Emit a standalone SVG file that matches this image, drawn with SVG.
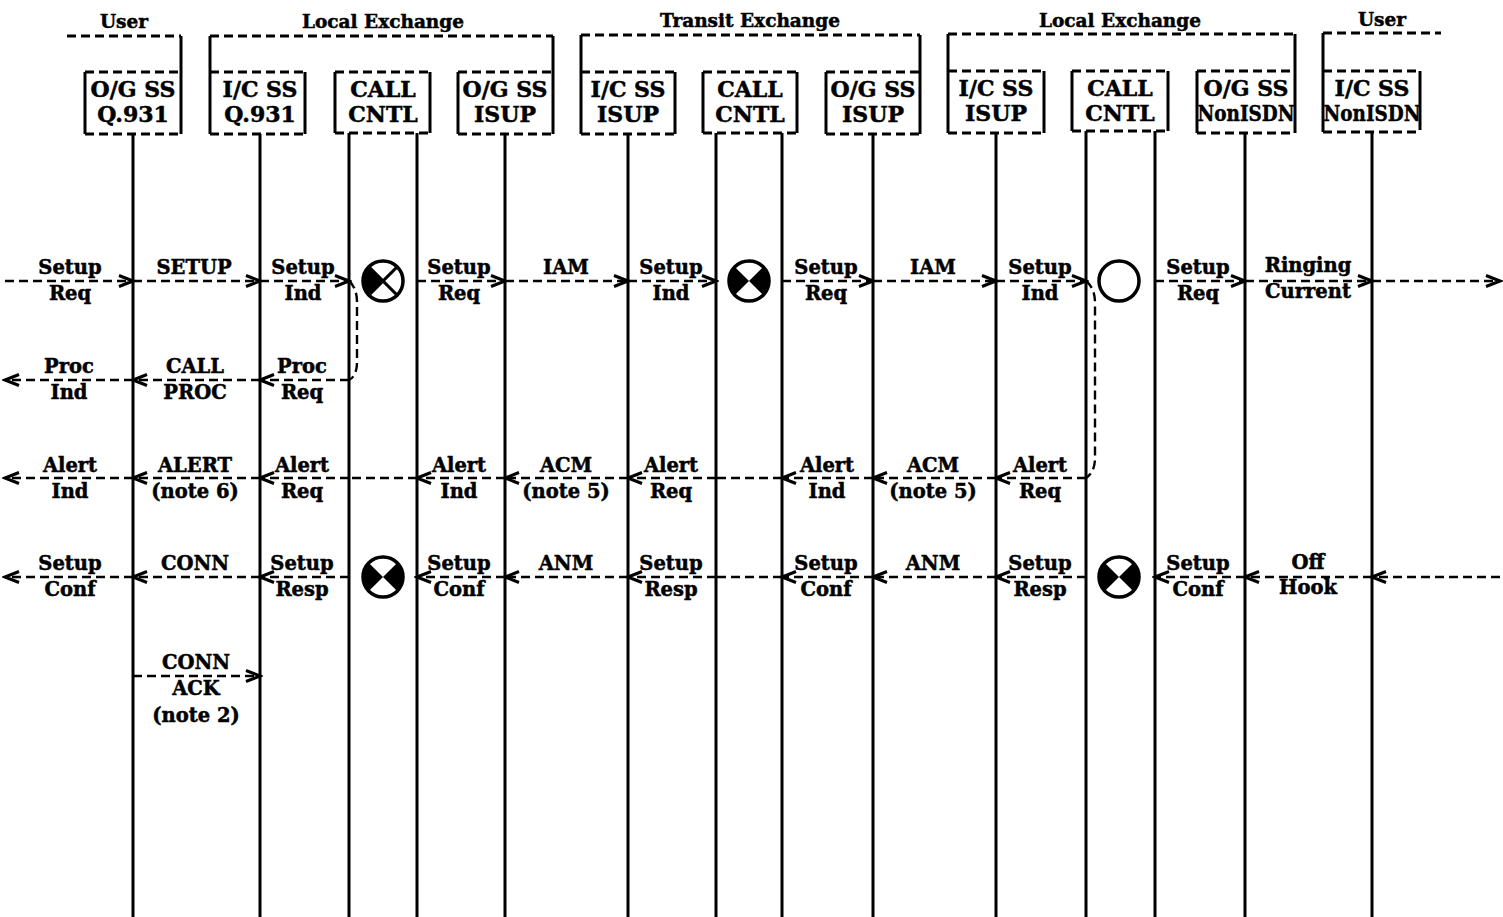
<svg xmlns="http://www.w3.org/2000/svg" width="1503" height="917" viewBox="0 0 1503 917">
<style>
.bg{fill:#fff}
.ll{stroke:#000;stroke-width:3;fill:none}
.sd{stroke:#000;stroke-width:3;fill:none}
.dd{stroke:#000;stroke-width:2.8;stroke-dasharray:9 5;fill:none}
.msg{stroke:#000;stroke-width:2.4;stroke-dasharray:9 5;fill:none}
.ah{marker-end:url(#ah)}
text{font-family:"DejaVu Serif","Liberation Serif",serif;font-weight:bold;fill:#000;text-anchor:middle;stroke:#000;stroke-width:0.5}
.t{font-size:19.5px}
.h{font-size:22px}
.ti{font-size:18.5px}
.sym{stroke:#000;stroke-width:3.5;fill:#fff}
.x{stroke:#000;stroke-width:3}
.fill{fill:#000}
</style>
<defs>
<marker id="ah" markerWidth="18" markerHeight="16" refX="15" refY="8" orient="auto" markerUnits="userSpaceOnUse">
<path d="M1,2.5 L15,8 L1,13.5" fill="none" stroke="#000" stroke-width="3"/>
</marker>
</defs>
<rect class="bg" x="0" y="0" width="1503" height="917"/>

<g id="user-a">
<text class="ti" x="124" y="28">User</text>
<line class="dd" x1="67" y1="36" x2="181" y2="36"/>
<line class="sd" x1="181" y1="36" x2="181" y2="134"/>
<line class="dd" x1="85" y1="72" x2="181" y2="72"/>
<line class="sd" x1="85" y1="72" x2="85" y2="134"/>
<line class="dd" x1="85" y1="134" x2="181" y2="134"/>
<text class="h" x="133" y="97">O/G SS</text>
<text class="h" x="133" y="122">Q.931</text>
<line class="ll" x1="133" y1="134" x2="133" y2="917"/>
</g>

<g id="local-exchange-a">
<text class="ti" x="383" y="28">Local Exchange</text>
<line class="dd" x1="210" y1="36" x2="553" y2="36"/>
<line class="sd" x1="210" y1="36" x2="210" y2="134"/>
<line class="sd" x1="553" y1="36" x2="553" y2="134"/>
<g id="ic-q931">
<line class="dd" x1="210" y1="72" x2="305" y2="72"/>
<line class="sd" x1="305" y1="72" x2="305" y2="134"/>
<line class="dd" x1="210" y1="134" x2="305" y2="134"/>
<text class="h" x="260" y="97">I/C SS</text>
<text class="h" x="260" y="122">Q.931</text>
<line class="ll" x1="260" y1="134" x2="260" y2="917"/>
</g>
<g id="cc-a">
<line class="dd" x1="335" y1="72" x2="430" y2="72"/>
<line class="sd" x1="335" y1="72" x2="335" y2="133"/>
<line class="sd" x1="430" y1="72" x2="430" y2="133"/>
<line class="dd" x1="335" y1="133" x2="430" y2="133"/>
<text class="h" x="383" y="97">CALL</text>
<text class="h" x="383" y="122">CNTL</text>
<line class="ll" x1="349" y1="133" x2="349" y2="917"/>
<line class="ll" x1="417" y1="133" x2="417" y2="917"/>
</g>
<g id="og-isup-a">
<line class="dd" x1="458" y1="72" x2="553" y2="72"/>
<line class="sd" x1="458" y1="72" x2="458" y2="134"/>
<line class="dd" x1="458" y1="134" x2="553" y2="134"/>
<text class="h" x="505" y="97">O/G SS</text>
<text class="h" x="505" y="122">ISUP</text>
<line class="ll" x1="505" y1="134" x2="505" y2="917"/>
</g>
</g>

<g id="transit-exchange">
<text class="ti" x="750" y="27">Transit Exchange</text>
<line class="dd" x1="581" y1="35" x2="920" y2="35"/>
<line class="sd" x1="581" y1="35" x2="581" y2="134"/>
<line class="sd" x1="920" y1="35" x2="920" y2="134"/>
<g id="ic-isup-t">
<line class="dd" x1="581" y1="72" x2="675" y2="72"/>
<line class="sd" x1="675" y1="72" x2="675" y2="134"/>
<line class="dd" x1="581" y1="134" x2="675" y2="134"/>
<text class="h" x="628" y="97">I/C SS</text>
<text class="h" x="628" y="122">ISUP</text>
<line class="ll" x1="628" y1="134" x2="628" y2="917"/>
</g>
<g id="cc-t">
<line class="dd" x1="703" y1="72" x2="797" y2="72"/>
<line class="sd" x1="703" y1="72" x2="703" y2="133"/>
<line class="sd" x1="797" y1="72" x2="797" y2="133"/>
<line class="dd" x1="703" y1="133" x2="797" y2="133"/>
<text class="h" x="750" y="97">CALL</text>
<text class="h" x="750" y="122">CNTL</text>
<line class="ll" x1="716" y1="133" x2="716" y2="917"/>
<line class="ll" x1="782" y1="133" x2="782" y2="917"/>
</g>
<g id="og-isup-t">
<line class="dd" x1="826" y1="72" x2="920" y2="72"/>
<line class="sd" x1="826" y1="72" x2="826" y2="134"/>
<line class="dd" x1="826" y1="134" x2="920" y2="134"/>
<text class="h" x="873" y="97">O/G SS</text>
<text class="h" x="873" y="122">ISUP</text>
<line class="ll" x1="873" y1="134" x2="873" y2="917"/>
</g>
</g>

<g id="local-exchange-b">
<text class="ti" x="1120" y="27">Local Exchange</text>
<line class="dd" x1="948" y1="34" x2="1295" y2="34"/>
<line class="sd" x1="948" y1="34" x2="948" y2="133"/>
<line class="sd" x1="1295" y1="34" x2="1295" y2="133"/>
<g id="ic-isup-b">
<line class="dd" x1="948" y1="71" x2="1044" y2="71"/>
<line class="sd" x1="1044" y1="71" x2="1044" y2="133"/>
<line class="dd" x1="948" y1="133" x2="1044" y2="133"/>
<text class="h" x="996" y="96">I/C SS</text>
<text class="h" x="996" y="121">ISUP</text>
<line class="ll" x1="996" y1="133" x2="996" y2="917"/>
</g>
<g id="cc-b">
<line class="dd" x1="1072" y1="71" x2="1168" y2="71"/>
<line class="sd" x1="1072" y1="71" x2="1072" y2="131"/>
<line class="sd" x1="1168" y1="71" x2="1168" y2="131"/>
<line class="dd" x1="1072" y1="131" x2="1168" y2="131"/>
<text class="h" x="1120" y="96">CALL</text>
<text class="h" x="1120" y="121">CNTL</text>
<line class="ll" x1="1086" y1="131" x2="1086" y2="917"/>
<line class="ll" x1="1155" y1="131" x2="1155" y2="917"/>
</g>
<g id="og-nonisdn">
<line class="dd" x1="1197" y1="71" x2="1295" y2="71"/>
<line class="sd" x1="1197" y1="71" x2="1197" y2="133"/>
<line class="dd" x1="1197" y1="133" x2="1295" y2="133"/>
<text class="h" x="1246" y="96">O/G SS</text>
<text class="h" x="1246" y="121" textLength="97" lengthAdjust="spacingAndGlyphs">NonISDN</text>
<line class="ll" x1="1245" y1="133" x2="1245" y2="917"/>
</g>
</g>

<g id="user-b">
<text class="ti" x="1382" y="26">User</text>
<line class="dd" x1="1323" y1="33" x2="1441" y2="33"/>
<line class="sd" x1="1323" y1="33" x2="1323" y2="132"/>
<line class="dd" x1="1323" y1="71" x2="1420" y2="71"/>
<line class="sd" x1="1420" y1="71" x2="1420" y2="130"/>
<line class="dd" x1="1323" y1="132" x2="1420" y2="132"/>
<text class="h" x="1372" y="96">I/C SS</text>
<text class="h" x="1372" y="121" textLength="97" lengthAdjust="spacingAndGlyphs">NonISDN</text>
<line class="ll" x1="1372" y1="132" x2="1372" y2="917"/>
</g>

<g id="symbols">
<g id="sym-1">
<circle class="sym" cx="383" cy="281" r="20"/>
<path class="fill" d="M383,281 L368.9,266.9 A20,20 0 0 0 368.9,295.1 Z"/>
<line class="x" x1="368.9" y1="266.9" x2="397.1" y2="295.1"/>
<line class="x" x1="368.9" y1="295.1" x2="397.1" y2="266.9"/>
</g>
<g id="sym-2">
<circle class="sym" cx="749" cy="281" r="20"/>
<path class="fill" d="M749,281 L734.9,266.9 A20,20 0 0 0 734.9,295.1 Z M749,281 L763.1,266.9 A20,20 0 0 1 763.1,295.1 Z"/>
</g>
<g id="sym-3">
<circle class="sym" cx="1119" cy="281" r="20"/>
</g>
<g id="sym-4">
<circle class="sym" cx="383" cy="577" r="20"/>
<path class="fill" d="M383,577 L368.9,562.9 A20,20 0 0 0 368.9,591.1 Z M383,577 L397.1,562.9 A20,20 0 0 1 397.1,591.1 Z"/>
</g>
<g id="sym-5">
<circle class="sym" cx="1119" cy="577" r="20"/>
<path class="fill" d="M1119,577 L1104.9,562.9 A20,20 0 0 0 1104.9,591.1 Z M1119,577 L1133.1,562.9 A20,20 0 0 1 1133.1,591.1 Z"/>
</g>
</g>

<g id="connectors">
<line class="msg ah" x1="5" y1="281" x2="133" y2="281"/>
<line class="msg ah" x1="133" y1="281" x2="260" y2="281"/>
<line class="msg ah" x1="260" y1="281" x2="349" y2="281"/>
<line class="msg ah" x1="417" y1="281" x2="505" y2="281"/>
<line class="msg ah" x1="505" y1="281" x2="628" y2="281"/>
<line class="msg ah" x1="628" y1="281" x2="716" y2="281"/>
<line class="msg ah" x1="782" y1="281" x2="873" y2="281"/>
<line class="msg ah" x1="873" y1="281" x2="996" y2="281"/>
<line class="msg ah" x1="996" y1="281" x2="1086" y2="281"/>
<line class="msg ah" x1="1155" y1="281" x2="1245" y2="281"/>
<line class="msg ah" x1="1245" y1="281" x2="1372" y2="281"/>
<line class="msg ah" x1="1372" y1="281" x2="1500" y2="281"/>
<path class="msg" d="M349,281 Q357,288 357,302 L357,362 Q357,376 349,380"/>
<path class="msg" d="M1086,281 Q1095,288 1095,303 L1095,458 Q1095,472 1086,478"/>
<line class="msg ah" x1="349" y1="380" x2="260" y2="380"/>
<line class="msg ah" x1="260" y1="380" x2="133" y2="380"/>
<line class="msg ah" x1="133" y1="380" x2="5" y2="380"/>
<line class="msg ah" x1="1086" y1="478" x2="996" y2="478"/>
<line class="msg ah" x1="996" y1="478" x2="873" y2="478"/>
<line class="msg ah" x1="873" y1="478" x2="782" y2="478"/>
<line class="msg" x1="782" y1="478" x2="716" y2="478"/>
<line class="msg ah" x1="716" y1="478" x2="628" y2="478"/>
<line class="msg ah" x1="628" y1="478" x2="505" y2="478"/>
<line class="msg ah" x1="505" y1="478" x2="417" y2="478"/>
<line class="msg" x1="417" y1="478" x2="349" y2="478"/>
<line class="msg ah" x1="349" y1="478" x2="260" y2="478"/>
<line class="msg ah" x1="260" y1="478" x2="133" y2="478"/>
<line class="msg ah" x1="133" y1="478" x2="5" y2="478"/>
<line class="msg ah" x1="1500" y1="577" x2="1372" y2="577"/>
<line class="msg ah" x1="1372" y1="577" x2="1245" y2="577"/>
<line class="msg ah" x1="1245" y1="577" x2="1155" y2="577"/>
<line class="msg ah" x1="1086" y1="577" x2="996" y2="577"/>
<line class="msg ah" x1="996" y1="577" x2="873" y2="577"/>
<line class="msg ah" x1="873" y1="577" x2="782" y2="577"/>
<line class="msg" x1="782" y1="577" x2="716" y2="577"/>
<line class="msg ah" x1="716" y1="577" x2="628" y2="577"/>
<line class="msg ah" x1="628" y1="577" x2="505" y2="577"/>
<line class="msg ah" x1="505" y1="577" x2="417" y2="577"/>
<line class="msg ah" x1="349" y1="577" x2="260" y2="577"/>
<line class="msg ah" x1="260" y1="577" x2="133" y2="577"/>
<line class="msg ah" x1="133" y1="577" x2="5" y2="577"/>
<line class="msg ah" x1="133" y1="676" x2="260" y2="676"/>
</g>

<g id="labels">
<text class="t" x="70" y="274">Setup</text><text class="t" x="70" y="300">Req</text>
<text class="t" x="194" y="274">SETUP</text>
<text class="t" x="303" y="274">Setup</text><text class="t" x="303" y="300">Ind</text>
<text class="t" x="459" y="274">Setup</text><text class="t" x="459" y="300">Req</text>
<text class="t" x="566" y="274">IAM</text>
<text class="t" x="671" y="274">Setup</text><text class="t" x="671" y="300">Ind</text>
<text class="t" x="826" y="274">Setup</text><text class="t" x="826" y="300">Req</text>
<text class="t" x="933" y="274">IAM</text>
<text class="t" x="1040" y="274">Setup</text><text class="t" x="1040" y="300">Ind</text>
<text class="t" x="1198" y="274">Setup</text><text class="t" x="1198" y="300">Req</text>
<text class="t" x="1308" y="272">Ringing</text><text class="t" x="1308" y="298">Current</text>
<text class="t" x="69" y="373">Proc</text><text class="t" x="69" y="399">Ind</text>
<text class="t" x="195" y="373">CALL</text><text class="t" x="195" y="399">PROC</text>
<text class="t" x="302" y="373">Proc</text><text class="t" x="302" y="399">Req</text>
<text class="t" x="70" y="472">Alert</text><text class="t" x="70" y="498">Ind</text>
<text class="t" x="195" y="472">ALERT</text><text class="t" x="195" y="498">(note 6)</text>
<text class="t" x="302" y="472">Alert</text><text class="t" x="302" y="498">Req</text>
<text class="t" x="459" y="472">Alert</text><text class="t" x="459" y="498">Ind</text>
<text class="t" x="566" y="472">ACM</text><text class="t" x="566" y="498">(note 5)</text>
<text class="t" x="671" y="472">Alert</text><text class="t" x="671" y="498">Req</text>
<text class="t" x="827" y="472">Alert</text><text class="t" x="827" y="498">Ind</text>
<text class="t" x="933" y="472">ACM</text><text class="t" x="933" y="498">(note 5)</text>
<text class="t" x="1040" y="472">Alert</text><text class="t" x="1040" y="498">Req</text>
<text class="t" x="70" y="570">Setup</text><text class="t" x="70" y="596">Conf</text>
<text class="t" x="195" y="570">CONN</text>
<text class="t" x="302" y="570">Setup</text><text class="t" x="302" y="596">Resp</text>
<text class="t" x="459" y="570">Setup</text><text class="t" x="459" y="596">Conf</text>
<text class="t" x="566" y="570">ANM</text>
<text class="t" x="671" y="570">Setup</text><text class="t" x="671" y="596">Resp</text>
<text class="t" x="826" y="570">Setup</text><text class="t" x="826" y="596">Conf</text>
<text class="t" x="933" y="570">ANM</text>
<text class="t" x="1040" y="570">Setup</text><text class="t" x="1040" y="596">Resp</text>
<text class="t" x="1198" y="570">Setup</text><text class="t" x="1198" y="596">Conf</text>
<text class="t" x="1308" y="569">Off</text><text class="t" x="1308" y="594">Hook</text>
<text class="t" x="196" y="669">CONN</text>
<text class="t" x="196" y="695">ACK</text>
<text class="t" x="196" y="722">(note 2)</text>
</g>
</svg>
